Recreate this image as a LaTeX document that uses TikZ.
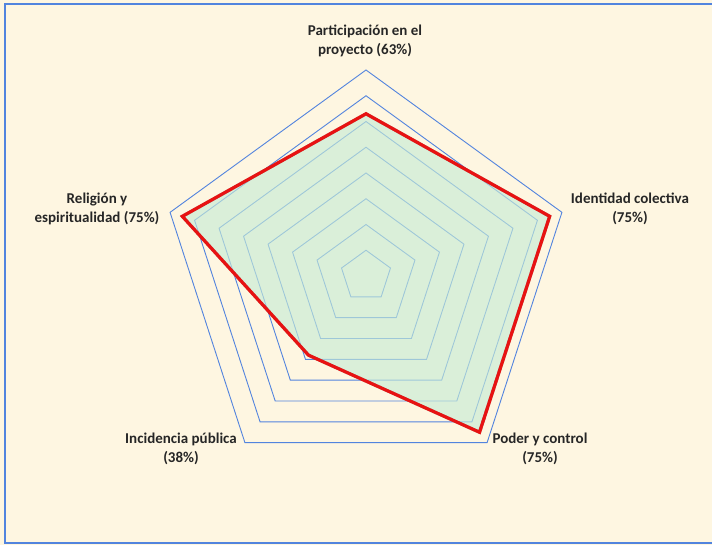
\documentclass[tikz,border=0pt]{standalone}
\usepackage{fontspec}
\setmainfont{Carlito}
\definecolor{bgcream}{RGB}{254,246,225}
\definecolor{ringblue}{RGB}{82,132,222}
\definecolor{areagreen}{RGB}{200,236,214}
\definecolor{linered}{RGB}{232,18,18}
\begin{document}
\begin{tikzpicture}[
        x=1pt, y=-1pt,
        ring/.style = {draw=ringblue, line width=0.9pt, line join=miter},% pentagon grid
        area/.style = {fill=areagreen, fill opacity=0.65},
        trace/.style = {draw=linered, line width=3.2pt, line join=miter},
        shade/.style = {draw=black!70, line width=3.2pt, line join=miter,
                opacity=0.45, shift={(1.5,2)}},
        lbl/.style = {font=\bfseries\fontsize{15}{19}\selectfont,
                align=center, inner sep=0pt, text=black!85},
    ]
    \useasboundingbox (0,0) rectangle (712,545);
    \fill[bgcream] (0,0) rectangle (712,545);
    \draw[ringblue, line width=1.2pt] (712,4) -- (5,4) -- (5,543) -- (712,543);
    \begin{scope}[shift={(366,276)}]
        \foreach \k in {1,...,8} % <-- rings every 10%, up to 80%
        \draw[ring] (-90:{\k*25.75}) -- (-18:{\k*25.75}) -- (54:{\k*25.75})
            -- (126:{\k*25.75}) -- (198:{\k*25.75}) -- cycle;
        % values 63, 75, 75, 38, 75 on a scale of 80
        \coordinate (P) at (-90:{63/80*206});
        \coordinate (I) at (-18:{75/80*206});
        \coordinate (C) at (54:{75/80*206});
        \coordinate (S) at (126:{38/80*206});
        \coordinate (R) at (198:{75/80*206});
        \fill[area] (P) -- (I) -- (C) -- (S) -- (R) -- cycle;
        \draw[shade] (P) -- (I) -- (C) -- (S) -- (R) -- cycle;
        \draw[trace] (P) -- (I) -- (C) -- (S) -- (R) -- cycle;
    \end{scope}
    \node[lbl] (part) at (365,41) {Participación en el\\proyecto (63\%)};
    \node[lbl] (iden) at (630,209) {Identidad colectiva\\(75\%)};
    \node[lbl] (pode) at (540,449) {Poder y control\\(75\%)};
    \node[lbl] (inci) at (181,449) {Incidencia pública\\(38\%)};
    \node[lbl] (reli) at (97,209) {Religión y\\espiritualidad (75\%)};
\end{tikzpicture}
\end{document}
